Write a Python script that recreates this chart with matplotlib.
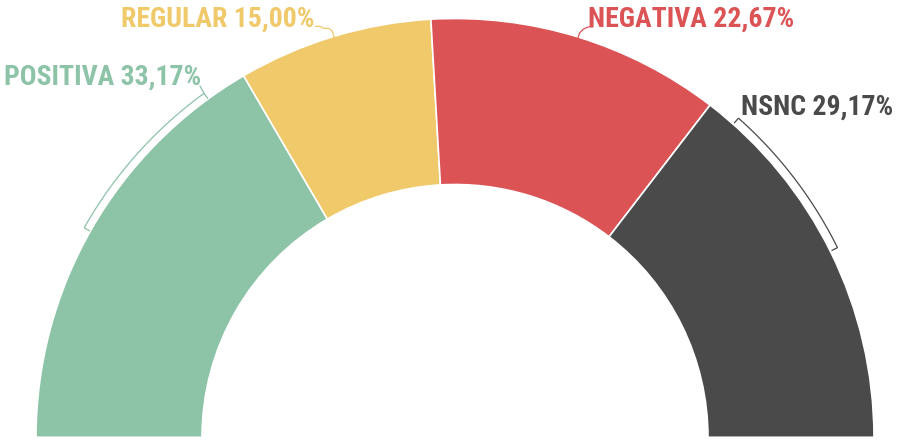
import numpy as np
import matplotlib
matplotlib.use("Agg")
import matplotlib.pyplot as plt
from matplotlib import font_manager

# survey answers, in percent
categories = ["POSITIVA", "REGULAR", "NEGATIVA", "NSNC"]
values = [33.17, 15.00, 22.67, 29.17]
labels = ["POSITIVA 33,17%", "REGULAR 15,00%", "NEGATIVA 22,67%", "NSNC 29,17%"]
colors = ["#8dc3a7", "#efc96a", "#dc5356", "#4a4a4a"]

W, H = 899, 441
cx, cy = 455, H - 437.5
r_out, r_in = 419, 253

# a condensed face if there is one, otherwise plain Roboto a bit smaller
names = {f.name for f in font_manager.fontManager.ttflist}
family, fsize = "Roboto", 17.5
for cand in ["Roboto Condensed", "Liberation Sans Narrow"]:
    if cand in names:
        family, fsize = cand, 20
        break

fig = plt.figure(figsize=(W / 100, H / 100), dpi=100)
ax = fig.add_axes([0, 0, 1, 1])

# half donut: the hidden second half fills the lower 180 degrees
total = sum(values)
ax.pie(values + [total], colors=colors + ["none"], startangle=180, counterclock=False,
       radius=r_out, center=(cx, cy),
       wedgeprops=dict(width=r_out - r_in, edgecolor="white", linewidth=1.2))
ax.set_xlim(0, W)
ax.set_ylim(0, H)
ax.set_aspect("equal")
ax.axis("off")

# segment angles (degrees, counterclockwise from +x)
edges = 180 - np.cumsum([0] + values) / total * 180
mids = (edges[:-1] + edges[1:]) / 2


def pt(angle, r):
    a = np.radians(angle)
    return cx + r * np.cos(a), cy + r * np.sin(a)


def bracket(a0, a1, color, r=426, tick=6):
    t = np.linspace(a0, a1, 60)
    xs, ys = pt(t, r)
    x0, y0 = pt(a0, r - tick)
    x1, y1 = pt(a1, r - tick)
    ax.plot([x0] + list(xs) + [x1], [y0] + list(ys) + [y1], color=color, lw=0.9,
            solid_joinstyle="miter")


def label(x, y_img, s, color):
    ax.text(x, H - y_img, s, color=color, fontsize=fsize, fontweight="bold",
            family=family, ha="left", va="baseline")


# POSITIVA: bracket along the arc, leader up to the label
bracket(126.1, 150.5, colors[0])
bx, by = pt(126.1, 426)
ax.plot([bx, 200], [by, H - 86], color=colors[0], lw=0.9)
label(4, 85, labels[0], colors[0])

# REGULAR: small wavy leader
lx, ly = pt(mids[1], r_out - 2)
ax.plot([lx, lx - 2, lx - 6, lx - 11, lx - 15, lx - 19],
        [ly, ly + 7, ly + 10, ly + 10, ly + 12, ly + 12], color=colors[1], lw=0.9)
label(121, 26.5, labels[1], colors[1])

# NEGATIVA: small curved leader
lx, ly = pt(mids[2], r_out - 2)
ax.plot([lx, lx + 2, lx + 6, lx + 11, lx + 15],
        [ly, ly + 6, ly + 10, ly + 12, ly + 12], color=colors[2], lw=0.9)
label(588, 26.5, labels[2], colors[2])

# NSNC: bracket along the arc
bracket(26.4, 48.4, colors[3], r=427)
label(741, 115, labels[3], colors[3])

fig.savefig("out.png", dpi=100)
